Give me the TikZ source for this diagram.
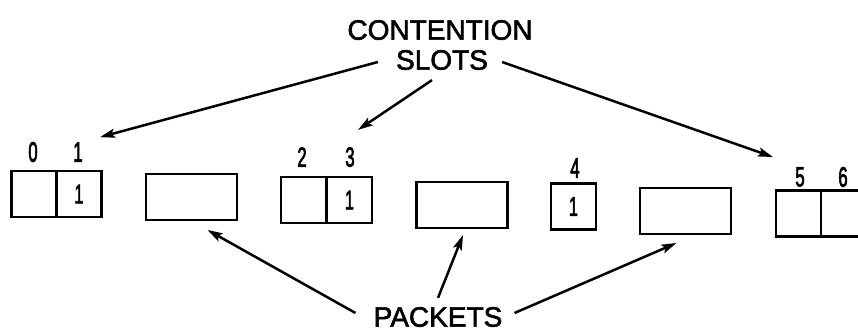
\documentclass[tikz,border=0pt]{standalone}
\usepackage{fontspec}
\usepackage{graphicx}
\setmainfont{Liberation Sans}
\newfontfamily\heavysans[FakeBold=2]{Liberation Sans}
\newfontfamily\digitsans[FakeBold=3]{Liberation Sans}
\usetikzlibrary{arrows.meta}
\newcommand{\cdig}[1]{\scalebox{0.6}[1]{#1}}
\begin{document}
\begin{tikzpicture}[x=1pt,y=-1pt,
  cell/.style={draw,line width=2.7pt,minimum height=46pt,minimum width=45pt,inner sep=0pt,outer sep=0pt,
    font=\digitsans\fontsize{27}{29}\selectfont},
  packet/.style={cell,minimum width=91pt},
  numlbl/.style={inner sep=0pt,font=\digitsans\fontsize{28}{30}\selectfont},
  caption/.style={inner sep=0pt,font=\heavysans\fontsize{28}{30}\selectfont},
  arr/.style={line width=2.5pt,-{Stealth[length=15pt,width=9pt,inset=3pt]}}]
\useasboundingbox (0,0) rectangle (858,332);
\clip (0,0) rectangle (858,332);

% slot pairs, packets and the single slot
\node[cell]   (s0) at (34,194)    {};
\node[cell]   (s1) at (79,194)    {\cdig{1}};
\node[packet] (p1) at (191.5,197) {};
\node[cell]   (s2) at (303.5,200) {};
\node[cell]   (s3) at (349.5,200) {\cdig{1}};
\node[packet] (p2) at (462,205)   {};
\node[cell]   (s4) at (573.5,206.5) {\cdig{1}};
\node[packet] (p3) at (685.5,211) {};
\node[cell]   (s5) at (798.5,213.5) {};
\node[cell]   (s6) at (843.5,213.5) {};

% slot numbers
\node[numlbl] (l0) at (33,152)  {\cdig{0}};
\node[numlbl] (l1) at (78,152)  {\cdig{1}};
\node[numlbl] (l2) at (302,157) {\cdig{2}};
\node[numlbl] (l3) at (350,157) {\cdig{3}};
\node[numlbl] (l4) at (575,168) {\cdig{4}};
\node[numlbl] (l5) at (800,177) {\cdig{5}};
\node[numlbl] (l6) at (843,177) {\cdig{6}};

% captions
\node[caption] (cont)  at (440,30)  {CONTENTION};
\node[caption] (slots) at (442,60)  {SLOTS};
\node[caption] (packets) at (438,317) {PACKETS};

% arrows from the captions
\draw[arr] ([xshift=-18pt,yshift=-2pt]slots.west) -- ([xshift=22pt,yshift=5pt]l1.north);
\draw[arr] ([xshift=-10pt,yshift=-10pt]slots.south) -- ([xshift=8pt,yshift=17pt]l3.north);
\draw[arr] ([xshift=14pt,yshift=-2pt]slots.east) -- ([xshift=-27pt,yshift=10pt]l5.north);

\draw[arr] ([xshift=-18pt,yshift=4pt]packets.west) -- ([xshift=16pt,yshift=-10pt]p1.south);
\draw[arr] ([xshift=0pt,yshift=9pt]packets.north) -- ([xshift=1pt,yshift=-7pt]p2.south);
\draw[arr] ([xshift=12pt,yshift=4pt]packets.east) -- ([xshift=-9pt,yshift=-9pt]p3.south);
\end{tikzpicture}
\end{document}
